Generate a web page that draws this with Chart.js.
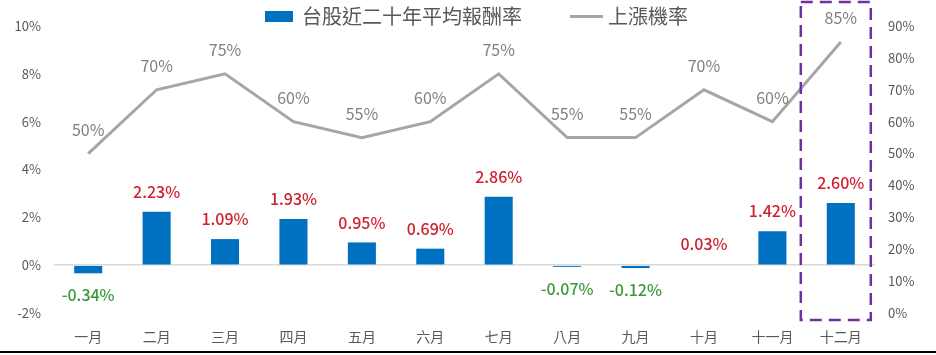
<!DOCTYPE html>
<html>
<head>
<meta charset="utf-8">
<script src="https://cdn.jsdelivr.net/npm/chart.js@4"></script>
<style>
html,body{margin:0;padding:0;background:#fff;}
#wrap{width:936px;height:355px;position:relative;}
</style>
</head>
<body>
<div id="wrap"><canvas id="c" width="936" height="355"></canvas></div>
<script>
const categories = ['一月','二月','三月','四月','五月','六月','七月','八月','九月','十月','十一月','十二月'];
const avgReturn = [-0.34, 2.23, 1.09, 1.93, 0.95, 0.69, 2.86, -0.07, -0.12, 0.03, 1.42, 2.60];
const riseProb = [50, 70, 75, 60, 55, 60, 75, 55, 55, 70, 60, 85];
const leftTicks = [-2, 0, 2, 4, 6, 8, 10];
const rightTicks = [0, 10, 20, 30, 40, 50, 60, 70, 80, 90];
const seriesNames = ['台股近二十年平均報酬率', '上漲機率'];
const highlightIndex = 11;

const FONT = '"Noto Sans CJK TC","Noto Sans",sans-serif';
const BAR_COLOR = '#0070C0';
const LINE_COLOR = '#A6A6A6';

const labelPlugin = {
  id: 'labels',
  afterDatasetsDraw(chart) {
    const ctx = chart.ctx;
    ctx.save();
    const barMeta = chart.getDatasetMeta(0);
    barMeta.data.forEach((el, i) => {
      const v = avgReturn[i];
      const txt = v.toFixed(2) + '%';
      ctx.font = '500 16px ' + FONT;
      ctx.textAlign = 'center';
      ctx.textBaseline = 'middle';
      if (v >= 0) {
        ctx.fillStyle = '#D0202E';
        ctx.fillText(txt, el.x, Math.min(el.y, el.base) - 20);
      } else {
        ctx.fillStyle = '#3A9A3A';
        ctx.fillText(txt, el.x, Math.max(el.y, el.base) + 22);
      }
    });
    const lineMeta = chart.getDatasetMeta(1);
    lineMeta.data.forEach((el, i) => {
      ctx.font = '16px ' + FONT;
      ctx.fillStyle = '#808080';
      ctx.textAlign = 'center';
      ctx.textBaseline = 'middle';
      ctx.fillText(riseProb[i] + '%', el.x, el.y - 24);
    });
    ctx.restore();
  },
  afterDraw(chart) {
    const ctx = chart.ctx;
    const xs = chart.scales.x;
    const yl = chart.scales.yL;
    ctx.save();
    // legend
    ctx.font = '20px ' + FONT;
    ctx.textBaseline = 'middle';
    ctx.textAlign = 'left';
    ctx.fillStyle = BAR_COLOR;
    ctx.fillRect(265, 11, 28, 11);
    ctx.fillStyle = '#595959';
    ctx.fillText(seriesNames[0], 302, 16);
    ctx.strokeStyle = LINE_COLOR;
    ctx.lineWidth = 3;
    ctx.beginPath();
    ctx.moveTo(570, 16.5);
    ctx.lineTo(603, 16.5);
    ctx.stroke();
    ctx.fillText(seriesNames[1], 608, 16);
    // dashed highlight box
    const cx = xs.getPixelForValue(highlightIndex);
    ctx.strokeStyle = '#7030A0';
    ctx.lineWidth = 2.5;
    ctx.setLineDash([12, 7]);
    ctx.strokeRect(cx - 40, 2, 70, yl.getPixelForValue(leftTicks[0]) + 7 - 2);
    ctx.setLineDash([]);
    // bottom rule
    ctx.strokeStyle = '#000';
    ctx.lineWidth = 2;
    ctx.beginPath();
    ctx.moveTo(0, 352);
    ctx.lineTo(936, 352);
    ctx.stroke();
    ctx.restore();
  }
};

new Chart(document.getElementById('c'), {
  type: 'bar',
  data: {
    labels: categories,
    datasets: [
      {
        type: 'bar',
        label: seriesNames[0],
        data: avgReturn,
        backgroundColor: BAR_COLOR,
        borderWidth: 0,
        barPercentage: 0.82,
        categoryPercentage: 0.5,
        yAxisID: 'yL',
        order: 2
      },
      {
        type: 'line',
        label: seriesNames[1],
        data: riseProb,
        borderColor: LINE_COLOR,
        backgroundColor: LINE_COLOR,
        borderWidth: 3,
        pointRadius: 0,
        tension: 0,
        yAxisID: 'yR',
        order: 1
      }
    ]
  },
  options: {
    responsive: false,
    animation: false,
    layout: { padding: { left: 0, right: 0, top: 26, bottom: 0 } },
    plugins: {
      tooltip: { enabled: false },
      legend: { display: false }
    },
    scales: {
      x: {
        grid: { display: false, drawTicks: false },
        border: { display: false },
        ticks: { font: { family: FONT, size: 14 }, color: '#595959', padding: 15 },
        afterFit(axis) { axis.height = 42; }
      },
      yL: {
        position: 'left',
        min: leftTicks[0],
        max: leftTicks[leftTicks.length - 1],
        afterBuildTicks(axis) { axis.ticks = leftTicks.map(v => ({ value: v })); },
        grid: {
          drawTicks: false,
          color: ctx => (ctx.tick && ctx.tick.value === 0) ? '#D9D9D9' : 'rgba(0,0,0,0)',
          lineWidth: 1.5
        },
        border: { display: false },
        ticks: { font: { family: FONT, size: 13 }, color: '#595959', padding: 13, callback: v => v + '%' },
        afterFit(axis) { axis.width = 54; }
      },
      yR: {
        position: 'right',
        min: rightTicks[0],
        max: rightTicks[rightTicks.length - 1],
        afterBuildTicks(axis) { axis.ticks = rightTicks.map(v => ({ value: v })); },
        grid: { display: false, drawTicks: false },
        border: { display: false },
        ticks: { font: { family: FONT, size: 13 }, color: '#595959', padding: 13, callback: v => v + '%' },
        afterFit(axis) { axis.width = 61; }
      }
    }
  },
  plugins: [labelPlugin]
});
</script>
</body>
</html>
